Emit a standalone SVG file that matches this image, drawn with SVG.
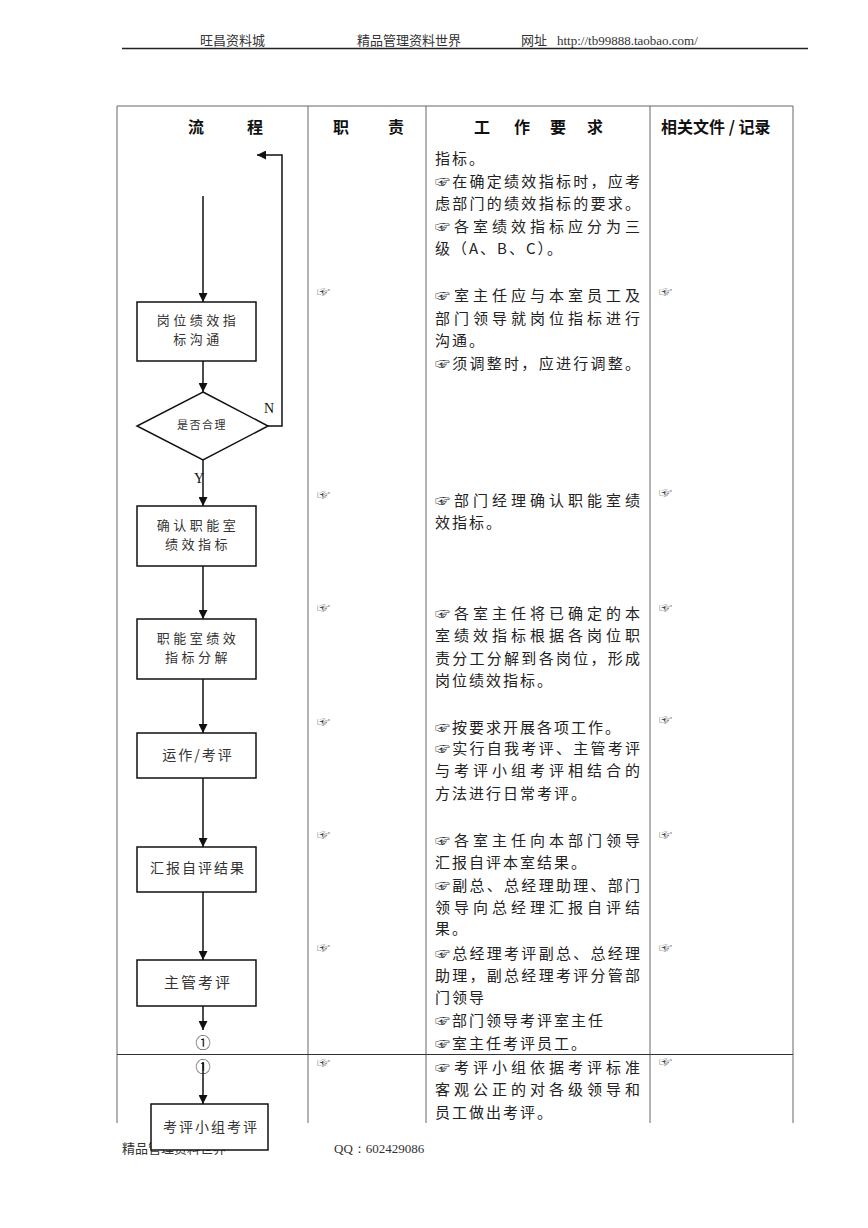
<svg xmlns="http://www.w3.org/2000/svg" width="868" height="1228" viewBox="0 0 868 1228">
<style>
.pg{font-family:"Noto Sans CJK SC","Liberation Serif",serif;font-size:13px;fill:#333}
.url{font-family:"Liberation Serif",serif;font-size:13px;fill:#333}
.th{font-family:"Noto Sans CJK SC",sans-serif;font-size:16px;font-weight:700;fill:#111}
.tb{fill:none;stroke:#666;stroke-width:1}
.box{fill:#fff;stroke:#111;stroke-width:1.5}
.nt{font-family:"Noto Sans CJK SC",sans-serif;font-size:15px;fill:#333;letter-spacing:2px;text-anchor:middle}
.nt3{font-family:"Noto Sans CJK SC",sans-serif;font-size:13px;fill:#333;letter-spacing:3.5px;text-anchor:middle}
.nt2{font-family:"Noto Sans CJK SC",sans-serif;font-size:14px;fill:#333;letter-spacing:2px;text-anchor:middle}
.dt{font-family:"Noto Sans CJK SC",sans-serif;font-size:11px;fill:#333;letter-spacing:1.5px;text-anchor:middle}
.lbl{font-family:"Liberation Serif",serif;font-size:14px;fill:#111}
.cir{font-family:"Noto Sans CJK SC","DejaVu Sans",sans-serif;font-size:15px;fill:#111;text-anchor:middle}
.wt{font-family:"Noto Sans CJK SC","DejaVu Sans",sans-serif;font-size:15px;fill:#222}
.ws{letter-spacing:2px}
.hand{font-family:"Noto Sans CJK SC","DejaVu Sans",sans-serif;font-size:13px;fill:#444}
.cn{fill:none;stroke:#111;stroke-width:1.5}
</style>
<defs>
<marker id="ah" viewBox="0 0 10 10" refX="10" refY="5" markerWidth="9" markerHeight="9" markerUnits="userSpaceOnUse" orient="auto">
<path d="M0,0 L10,5 L0,10 z" fill="#111"/>
</marker>
</defs>

<!-- page header -->
<g id="page-header">
<text class="pg" x="200" y="45">旺昌资料城</text>
<text class="pg" x="357" y="45">精品管理资料世界</text>
<text class="pg" x="521" y="45">网址</text>
<text class="url" x="557" y="45">http://tb99888.taobao.com/</text>
<line x1="122" y1="48.5" x2="808" y2="48.5" stroke="#222" stroke-width="1.5"/>
</g>

<!-- table -->
<g id="table">
<line class="tb" x1="117" y1="106" x2="793" y2="106"/>
<line class="tb" x1="117" y1="106" x2="117" y2="1123"/>
<line class="tb" x1="308" y1="106" x2="308" y2="1123"/>
<line class="tb" x1="426" y1="106" x2="426" y2="1123"/>
<line class="tb" x1="650" y1="106" x2="650" y2="1123"/>
<line class="tb" x1="793" y1="106" x2="793" y2="1123"/>
<line x1="117" y1="1054.5" x2="793" y2="1054.5" stroke="#333" stroke-width="1"/>
<text class="th" x="188" y="133">流</text>
<text class="th" x="247" y="133">程</text>
<text class="th" x="333" y="133">职</text>
<text class="th" x="388" y="133">责</text>
<text class="th" x="474" y="133">工</text>
<text class="th" x="514" y="133">作</text>
<text class="th" x="550" y="133">要</text>
<text class="th" x="587" y="133">求</text>
<text class="th" x="661" y="133">相关文件 / 记录</text>
</g>

<!-- footer (drawn before last node so the box covers it) -->
<g id="page-footer">
<text class="pg" x="122" y="1153">精品管理资料世界</text>
<text class="url" x="334" y="1153">QQ：602429086</text>
</g>

<!-- connectors -->
<g id="connectors">
<line class="cn" x1="203" y1="196" x2="203" y2="302" marker-end="url(#ah)"/>
<line class="cn" x1="203" y1="361" x2="203" y2="392" marker-end="url(#ah)"/>
<polyline class="cn" points="268,426 282,426 282,155 257,155" marker-end="url(#ah)"/>
<line class="cn" x1="203" y1="460" x2="203" y2="506" marker-end="url(#ah)"/>
<line class="cn" x1="203" y1="566" x2="203" y2="619" marker-end="url(#ah)"/>
<line class="cn" x1="203" y1="679" x2="203" y2="733" marker-end="url(#ah)"/>
<line class="cn" x1="203" y1="778" x2="203" y2="847" marker-end="url(#ah)"/>
<line class="cn" x1="203" y1="892" x2="203" y2="960" marker-end="url(#ah)"/>
<line class="cn" x1="203" y1="1006" x2="203" y2="1030" marker-end="url(#ah)"/>
<line class="cn" x1="203" y1="1062" x2="203" y2="1104" marker-end="url(#ah)"/>
<text class="lbl" x="264" y="413">N</text>
<text class="lbl" x="194" y="483">Y</text>
</g>

<!-- nodes -->
<g id="n1">
<rect class="box" x="137" y="302" width="119" height="59"/>
<text class="nt3" x="198" y="325">岗位绩效指</text>
<text class="nt3" x="198" y="344">标沟通</text>
</g>
<g id="n2">
<path class="box" d="M203,392 L268,426 L203,460 L137,426 z"/>
<text class="dt" x="202" y="429">是否合理</text>
</g>
<g id="n3">
<rect class="box" x="137" y="506" width="119" height="60"/>
<text class="nt3" x="198" y="530">确认职能室</text>
<text class="nt3" x="198" y="549">绩效指标</text>
</g>
<g id="n4">
<rect class="box" x="137" y="619" width="119" height="60"/>
<text class="nt3" x="198" y="643">职能室绩效</text>
<text class="nt3" x="198" y="662">指标分解</text>
</g>
<g id="n5">
<rect class="box" x="137" y="733" width="119" height="45"/>
<text class="nt2" x="198" y="760">运作/考评</text>
</g>
<g id="n6">
<rect class="box" x="137" y="847" width="119" height="45"/>
<text class="nt2" x="198" y="873">汇报自评结果</text>
</g>
<g id="n7">
<rect class="box" x="137" y="960" width="119" height="46"/>
<text class="nt" x="198" y="988">主管考评</text>
</g>
<g id="c1">
<text class="cir" x="203" y="1048">①</text>
</g>
<g id="c2">
<text class="cir" x="203" y="1072">①</text>
</g>
<g id="n8">
<rect class="box" x="151" y="1104" width="117" height="46"/>
<text class="nt2" x="211" y="1132">考评小组考评</text>
</g>

<!-- work requirement column -->
<g id="requirements">
<text class="wt ws" x="435" y="164">指标。</text>
<text class="wt" x="435" y="186.5" textLength="205" lengthAdjust="spacing">☞在确定绩效指标时，应考</text>
<text class="wt" x="435" y="209" textLength="205" lengthAdjust="spacing">虑部门的绩效指标的要求。</text>
<text class="wt" x="435" y="231.5" textLength="205" lengthAdjust="spacing">☞各室绩效指标应分为三</text>
<text class="wt ws" x="435" y="254">级（A、B、C）。</text>

<text class="wt" x="435" y="301" textLength="205" lengthAdjust="spacing">☞室主任应与本室员工及</text>
<text class="wt" x="435" y="324" textLength="205" lengthAdjust="spacing">部门领导就岗位指标进行</text>
<text class="wt ws" x="435" y="346">沟通。</text>
<text class="wt" x="435" y="369" textLength="205" lengthAdjust="spacing">☞须调整时，应进行调整。</text>

<text class="wt" x="435" y="506" textLength="205" lengthAdjust="spacing">☞部门经理确认职能室绩</text>
<text class="wt ws" x="435" y="528">效指标。</text>

<text class="wt" x="435" y="619" textLength="205" lengthAdjust="spacing">☞各室主任将已确定的本</text>
<text class="wt" x="435" y="641" textLength="205" lengthAdjust="spacing">室绩效指标根据各岗位职</text>
<text class="wt" x="435" y="664" textLength="205" lengthAdjust="spacing">责分工分解到各岗位，形成</text>
<text class="wt ws" x="435" y="686">岗位绩效指标。</text>

<text class="wt ws" x="435" y="733">☞按要求开展各项工作。</text>
<text class="wt" x="435" y="754" textLength="205" lengthAdjust="spacing">☞实行自我考评、主管考评</text>
<text class="wt" x="435" y="776" textLength="205" lengthAdjust="spacing">与考评小组考评相结合的</text>
<text class="wt ws" x="435" y="799">方法进行日常考评。</text>

<text class="wt" x="435" y="846" textLength="205" lengthAdjust="spacing">☞各室主任向本部门领导</text>
<text class="wt ws" x="435" y="868">汇报自评本室结果。</text>
<text class="wt" x="435" y="891" textLength="205" lengthAdjust="spacing">☞副总、总经理助理、部门</text>
<text class="wt" x="435" y="913" textLength="205" lengthAdjust="spacing">领导向总经理汇报自评结</text>
<text class="wt ws" x="435" y="934">果。</text>
<text class="wt" x="435" y="959" textLength="205" lengthAdjust="spacing">☞总经理考评副总、总经理</text>
<text class="wt" x="435" y="981" textLength="205" lengthAdjust="spacing">助理，副总经理考评分管部</text>
<text class="wt ws" x="435" y="1003">门领导</text>
<text class="wt ws" x="435" y="1026">☞部门领导考评室主任</text>
<text class="wt ws" x="435" y="1049">☞室主任考评员工。</text>

<text class="wt" x="435" y="1073" textLength="205" lengthAdjust="spacing">☞考评小组依据考评标准</text>
<text class="wt" x="435" y="1095" textLength="205" lengthAdjust="spacing">客观公正的对各级领导和</text>
<text class="wt ws" x="435" y="1118">员工做出考评。</text>
</g>

<!-- responsibility / records marks -->
<g id="marks">
<text class="hand" x="317" y="296">☞</text>
<text class="hand" x="317" y="499">☞</text>
<text class="hand" x="317" y="612">☞</text>
<text class="hand" x="317" y="726">☞</text>
<text class="hand" x="317" y="839">☞</text>
<text class="hand" x="317" y="952">☞</text>
<text class="hand" x="317" y="1067">☞</text>
<text class="hand" x="659" y="296">☞</text>
<text class="hand" x="659" y="497">☞</text>
<text class="hand" x="659" y="612">☞</text>
<text class="hand" x="659" y="724">☞</text>
<text class="hand" x="659" y="839">☞</text>
<text class="hand" x="659" y="952">☞</text>
<text class="hand" x="659" y="1066">☞</text>
</g>
</svg>
